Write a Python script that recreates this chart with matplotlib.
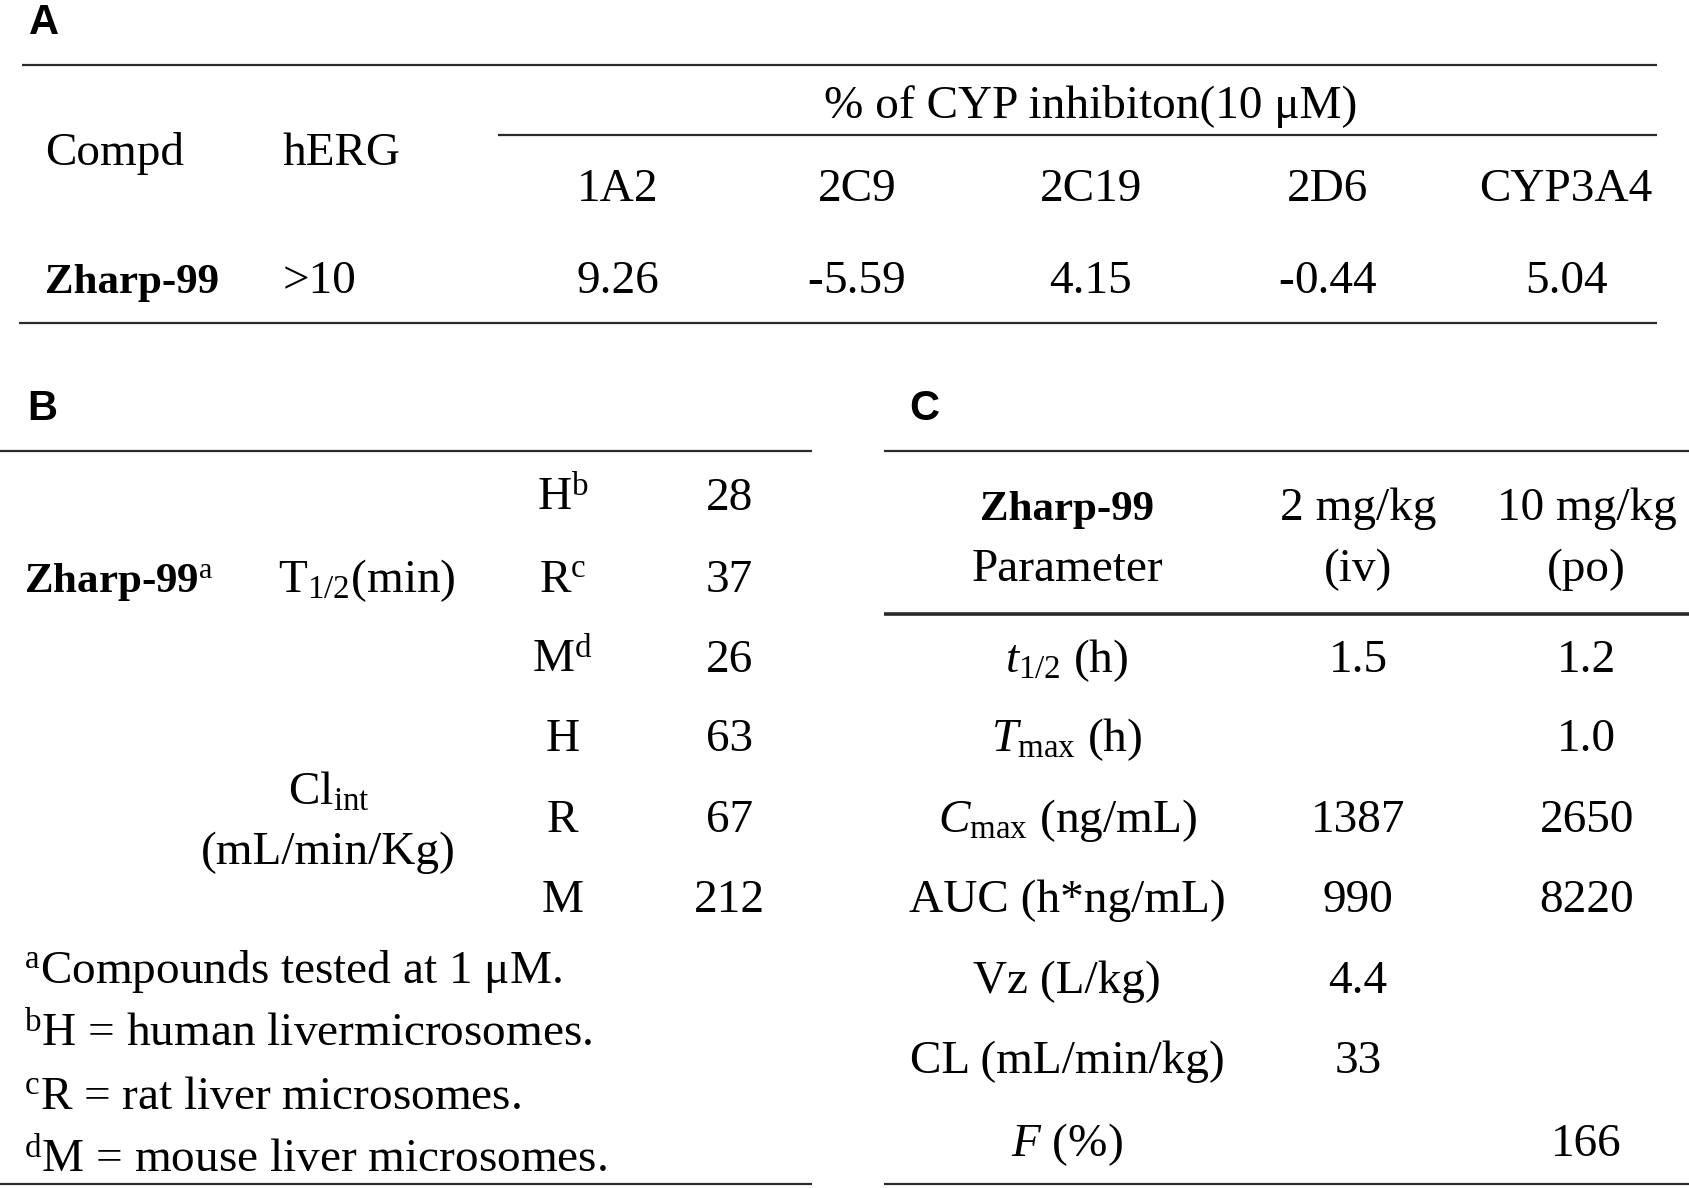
import matplotlib
matplotlib.use("Agg")
import matplotlib.pyplot as plt

# Table A: CYP inhibition
cyp_isoforms = ["1A2", "2C9", "2C19", "2D6", "CYP3A4"]
cyp_values = ["9.26", "-5.59", "4.15", "-0.44", "5.04"]
compound = "Zharp-99"
herg_value = ">10"

# Table B: microsomal stability
species_t12 = ["H$^{\\mathrm{b}}$", "R$^{\\mathrm{c}}$", "M$^{\\mathrm{d}}$"]
t12_values = ["28", "37", "26"]
species_cl = ["H", "R", "M"]
cl_values = ["63", "67", "212"]
footnotes = [
    "$^{\\mathrm{a}}$Compounds tested at 1 μM.",
    "$^{\\mathrm{b}}$H = human livermicrosomes.",
    "$^{\\mathrm{c}}$R = rat liver microsomes.",
    "$^{\\mathrm{d}}$M = mouse liver microsomes.",
]

# Table C: PK parameters
pk_params = [
    "$\\mathit{t}_{\\mathrm{1/2}}$ (h)",
    "$\\mathit{T}_{\\mathrm{max}}$ (h)",
    "$\\mathit{C}_{\\mathrm{max}}$ (ng/mL)",
    "AUC (h*ng/mL)",
    "Vz (L/kg)",
    "CL (mL/min/kg)",
    "$\\mathit{F}$ (%)",
]
pk_iv = ["1.5", "", "1387", "990", "4.4", "33", ""]
pk_po = ["1.2", "1.0", "2650", "8220", "", "", "166"]

plt.rcParams["font.family"] = ["Liberation Serif", "DejaVu Serif"]
plt.rcParams["mathtext.fontset"] = "custom"
plt.rcParams["mathtext.rm"] = "Liberation Serif"
plt.rcParams["mathtext.it"] = "Liberation Serif:italic"
plt.rcParams["mathtext.bf"] = "Liberation Serif:bold"

fig = plt.figure(figsize=(16.89, 11.88), dpi=100)
ax = fig.add_axes([0, 0, 1, 1])
ax.set_xlim(0, 1567)
ax.set_ylim(1102, 0)
ax.axis("off")
renderer = fig.canvas.get_renderer()

fs = 34
fs_bold = 31
lc = "#2a2a2a"


def txt(x, y, s, ha="center", **kw):
    size = fs_bold if kw.get("fontweight") == "bold" else fs
    ax.text(x, y, s, ha=ha, va="baseline", fontsize=size, **kw)


def data_width(t):
    bb = t.get_window_extent(renderer)
    inv = ax.transData.inverted()
    return inv.transform((bb.x1, 0))[0] - inv.transform((bb.x0, 0))[0]


def value_txt(x, y, s):
    # negative values carry a heavier hyphen in the source table
    if not s.startswith("-"):
        txt(x, y, s)
        return
    h = ax.text(0, y, "-", ha="left", va="baseline", fontsize=fs,
                fontweight="bold")
    n = ax.text(0, y, s[1:], ha="left", va="baseline", fontsize=fs)
    wh, wn = data_width(h), data_width(n)
    x0 = x - (wh + wn) / 2
    h.set_x(x0)
    n.set_x(x0 + wh)


def hline(y, x0, x1, lw=1.6):
    ax.plot([x0, x1], [y, y], color=lc, lw=lw, solid_capstyle="butt")


def panel_label(x, y, s):
    ax.text(x, y, s, ha="left", va="baseline", fontsize=30,
            fontweight="bold", family="Liberation Sans")


# ---- A ----
panel_label(27, 32, "A")
hline(60, 20, 1537)
hline(125, 462, 1537)
hline(300, 18, 1537)
txt(42, 153, "Compd", ha="left")
txt(262, 153, "hERG", ha="left")
txt(1012, 109, "% of CYP inhibiton(10 μM)")
cyp_x = [573, 795, 1012, 1232, 1453]
for x, iso, val in zip(cyp_x, cyp_isoforms, cyp_values):
    txt(x, 186, iso)
    value_txt(x, 272, val)
txt(42, 272, compound, ha="left", fontweight="bold")
txt(262, 272, herg_value, ha="left")

# ---- B ----
panel_label(25, 390, "B")
hline(418, 0, 753)
hline(1098, 0, 753)
rows_b = [473, 549, 623, 697, 772, 846]
for y, sp, v in zip(rows_b[:3], species_t12, t12_values):
    txt(522, y, sp)
    txt(677, y, v)
for y, sp, v in zip(rows_b[3:], species_cl, cl_values):
    txt(522, y, sp)
    txt(677, y, v)
txt(22, 549, compound + "$^{\\mathrm{a}}$", ha="left", fontweight="bold")
txt(340, 549, "T$_{\\mathrm{1/2}}$(min)")
txt(305, 746, "Cl$_{\\mathrm{int}}$")
txt(305, 801, "(mL/min/Kg)")
for i, note in enumerate(footnotes):
    txt(22, 912 + i * 58.5, note, ha="left")

# ---- C ----
panel_label(844, 390, "C")
hline(418, 820, 1567)
hline(570, 820, 1567, lw=2.6)
hline(1098, 820, 1567)
txt(990, 482, compound, fontweight="bold")
txt(990, 539, "Parameter")
txt(1260, 482, "2 mg/kg")
txt(1260, 539, "(iv)")
txt(1472, 482, "10 mg/kg")
txt(1472, 539, "(po)")
rows_c = [623, 697, 772, 846, 921, 995, 1072]
for y, p, a, b in zip(rows_c, pk_params, pk_iv, pk_po):
    txt(990, y, p)
    txt(1260, y, a)
    txt(1472, y, b)

fig.savefig("out.png", dpi=100)
